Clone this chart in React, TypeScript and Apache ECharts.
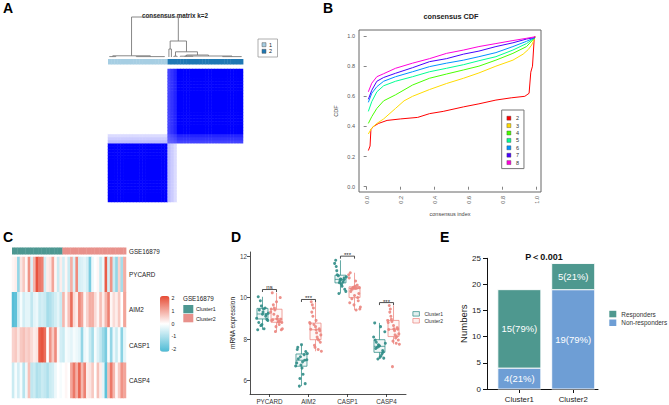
import React, { useEffect, useRef } from "react";
import * as echarts from "echarts";

const FONT = "'Liberation Sans', Arial, Helvetica, sans-serif";

/* ---------------- Panel A : consensus matrix k=2 ---------------- */
const consensusClusters = [
  1, 1, 1, 1, 1, 1, 1, 1, 1, 1, 1, 1, 1, 1, 1, 1, 1, 1, 1,
  2, 2, 2, 2, 2, 2, 2, 2, 2, 2, 2, 2, 2, 2, 2, 2, 2, 2, 2, 2, 2, 2, 2, 2,
];
// estimated share of runs in which each sample falls into cluster 2
const cluster2Affinity = [
  0, 0, 0, 0, 0, 0, 0, 0, 0, 0, 0, 0, 0, 0, 0, 0, 0, 0, 0,
  0.74, 0.8, 0.86, 1, 1, 1, 1, 1, 1, 1, 1, 1, 1, 1, 1, 1, 1, 1, 1, 1, 1, 1, 1, 1,
];
// dendrogram links: [xLeft, xRight, mergeHeight, leftChildHeight, rightChildHeight]
const dendroLinks = [
  [7.5, 22.4, 1.0, 0.03, 0.4],
  [19.8, 25.0, 0.4, 0.2, 0.13],
  [19.4, 20.2, 0.2, 0, 0],
  [21.5, 28.5, 0.13, 0.02, 0.05],
  [21.0, 22.0, 0.02, 0, 0],
  [25.0, 32.0, 0.05, 0.02, 0.025],
  [23.0, 27.0, 0.02, 0.008, 0.008],
  [24.5, 39.5, 0.025, 0.01, 0.01],
  [36.5, 42.5, 0.01, 0, 0],
  [1.5, 13.5, 0.03, 0.01, 0.01],
  [0.5, 2.5, 0.01, 0, 0],
  [9.0, 18.0, 0.01, 0, 0],
];
const clusterColorsA = ["#A6CEE3", "#1F78B4"];

/* ---------------- Panel B : consensus CDF ---------------- */
const cdfNames = ["2", "3", "4", "5", "6", "7", "8"];
const cdfColors = ["#FF0000", "#FFDB00", "#49FF00", "#00FF92", "#0092FF", "#4900FF", "#FF00DB"];
const cdfK2 = [[0.01, 0.24], [0.02, 0.27], [0.025, 0.38], [0.04, 0.4], [0.07, 0.42], [0.12, 0.44], [0.2, 0.45], [0.3, 0.46], [0.37, 0.485], [0.45, 0.5], [0.57, 0.53], [0.66, 0.55], [0.76, 0.575], [0.85, 0.59], [0.93, 0.6], [0.955, 0.62], [0.965, 0.76], [0.975, 0.8], [0.985, 0.98], [0.99, 1.0]];
const cdfK3 = [[0.01, 0.35], [0.03, 0.39], [0.06, 0.42], [0.1, 0.45], [0.17, 0.52], [0.22, 0.57], [0.27, 0.6], [0.37, 0.645], [0.47, 0.685], [0.57, 0.72], [0.66, 0.755], [0.76, 0.8], [0.86, 0.84], [0.92, 0.88], [0.95, 0.91], [0.97, 0.94], [0.99, 0.99]];
const cdfK4 = [[0.01, 0.42], [0.03, 0.465], [0.06, 0.52], [0.1, 0.57], [0.17, 0.61], [0.27, 0.675], [0.37, 0.72], [0.47, 0.748], [0.57, 0.775], [0.66, 0.8], [0.76, 0.84], [0.86, 0.885], [0.94, 0.93], [0.99, 0.99]];
const cdfK5 = [[0.01, 0.5], [0.03, 0.565], [0.06, 0.63], [0.1, 0.67], [0.17, 0.7], [0.27, 0.73], [0.37, 0.763], [0.47, 0.786], [0.57, 0.81], [0.66, 0.836], [0.76, 0.863], [0.86, 0.907], [0.94, 0.95], [0.99, 0.99]];
const cdfK6 = [[0.01, 0.56], [0.03, 0.62], [0.06, 0.664], [0.1, 0.7], [0.17, 0.73], [0.27, 0.763], [0.37, 0.797], [0.47, 0.82], [0.57, 0.84], [0.66, 0.863], [0.76, 0.89], [0.86, 0.93], [0.94, 0.965], [0.99, 0.99]];
const cdfK7 = [[0.01, 0.58], [0.03, 0.64], [0.06, 0.7], [0.1, 0.725], [0.17, 0.753], [0.27, 0.79], [0.37, 0.83], [0.47, 0.85], [0.57, 0.88], [0.66, 0.9], [0.76, 0.93], [0.86, 0.955], [0.94, 0.98], [0.99, 0.99]];
const cdfK8 = [[0.01, 0.63], [0.03, 0.687], [0.06, 0.73], [0.1, 0.75], [0.17, 0.786], [0.27, 0.82], [0.37, 0.85], [0.47, 0.885], [0.57, 0.907], [0.66, 0.93], [0.76, 0.95], [0.86, 0.97], [0.94, 0.985], [0.99, 0.995]];
const cdfCurves = [cdfK2, cdfK3, cdfK4, cdfK5, cdfK6, cdfK7, cdfK8];
const cdfTicks = [0, 0.2, 0.4, 0.6, 0.8, 1.0];

/* ---------------- Panel C : heatmap (z-scores) ---------------- */
const heatGenes = ["PYCARD", "AIM2", "CASP1", "CASP4"];
const zPYCARD = [0.1, 0.2, -1.2, 0.3, 0.6, 0.1, 1.2, -0.4, 0.8, 1.9, 1.5, 1.4, -0.5, 0.2, 0.3, 1.0, 0.1, -0.6, 0.2, -0.5, 0.1, -0.6, 0.9, -0.4, 1.3, -0.5, -0.4, -0.3, -0.5, -1.5, -0.2, 0.0, 0.1, -0.6, -0.2, 1.8, -0.5, 1.2, -0.6, -1.2, 0.5, -1.0, 0.9];
const zAIM2 = [-1.9, -1.8, -0.6, -0.1, -0.5, -0.3, -0.3, -0.7, -0.3, -0.2, -0.6, -0.5, -0.6, -1.0, -0.9, -0.7, -0.5, -0.3, -0.6, 0.8, 0.1, 0.7, 1.6, 0.4, 0.2, 1.3, 1.0, 0.1, 0.5, 0.9, 0.9, 0.4, 0.1, 0.7, 0.2, 0.8, 1.4, 0.1, 0.4, 0.2, 0.6, 0.0, 1.0];
const zCASP1 = [0.5, 0.6, 0.3, 0.6, 0.7, 0.5, 0.6, 0.4, 0.2, 0.3, 1.8, 1.9, 1.6, 0.0, 1.2, 0.6, 1.3, 0.1, -0.5, -0.6, -0.1, -0.2, -0.3, -0.1, -0.2, -0.3, -1.2, -0.2, -0.1, -0.6, -1.0, -0.1, -0.4, -0.7, -1.1, -1.5, -0.1, -1.2, -0.2, -0.6, -0.1, -1.3, -0.3];
const zCASP4 = [-0.6, -0.1, -0.5, -0.1, -0.8, -0.2, 0.7, -0.7, -0.6, -0.9, -0.8, -0.6, -0.7, -0.9, -0.6, -0.5, -0.2, 0.0, -0.1, 0.0, 0.1, 0.0, 1.0, 1.5, 0.9, 1.7, 0.8, 1.4, 0.2, 0.3, 0.6, 0.0, 0.7, 0.2, -0.3, -1.8, 0.7, 1.5, 0.8, 0.1, 0.6, 1.2, 1.0];
const heatSampleCluster = consensusClusters;
const clusterColorsC = ["#4D9791", "#E8918B"];
const heatScaleColors = ["#4DBBD5", "#FFFFFF", "#E64B35"];
const heatScaleTicks = [2, 1, 0, -1, -2];

/* ---------------- Panel D : boxplots ---------------- */
const boxGenes = ["PYCARD", "AIM2", "CASP1", "CASP4"];
const exprCluster1 = [
  [9.2, 8.45, 9.5, 9.85, 8.9, 9.3, 10.04, 9.1, 8.65, 9.25, 9.45, 8.8, 9.18, 9.6, 9.0, 8.5, 9.4, 8.95, 8.7],
  [7.73, 6.85, 7.25, 5.73, 7.0, 6.6, 7.5, 6.98, 6.1, 7.3, 6.9, 7.6, 5.85, 7.15, 6.7, 6.3, 7.05, 7.4, 6.75],
  [10.9, 11.8, 10.75, 11.05, 10.3, 10.88, 11.5, 10.85, 10.2, 11.0, 10.65, 11.3, 10.95, 10.72, 11.65, 10.55, 11.1, 10.4, 10.8],
  [7.68, 8.78, 7.3, 7.6, 8.35, 7.12, 7.95, 7.45, 7.04, 7.8, 8.6, 7.55, 7.38, 7.72, 8.1, 7.2, 7.85, 7.08, 7.65],
];
const exprCluster2 = [
  [8.97, 10.23, 8.85, 9.4, 8.5, 9.1, 8.93, 10.0, 8.36, 9.3, 8.82, 9.65, 8.96, 8.6, 9.45, 8.87, 9.2, 8.45, 9.8, 8.9, 8.7, 9.5, 8.8, 8.98],
  [8.45, 9.8, 7.95, 8.7, 7.41, 8.3, 9.3, 8.5, 7.7, 8.8, 8.1, 9.65, 8.4, 7.6, 8.75, 8.0, 9.1, 7.85, 8.6, 8.47, 7.5, 9.5, 8.2, 8.9],
  [10.44, 11.2, 10.0, 10.46, 9.55, 10.8, 10.3, 9.85, 10.5, 11.1, 9.4, 10.43, 10.2, 9.65, 10.95, 10.45, 9.95, 10.48, 10.1, 9.75, 10.6, 10.4, 9.45, 10.55],
  [8.47, 9.62, 8.12, 8.85, 7.75, 8.4, 9.3, 8.55, 6.67, 8.9, 8.2, 9.45, 8.48, 7.9, 8.8, 8.05, 9.1, 7.95, 8.65, 8.46, 7.8, 8.95, 8.25, 8.5],
];
// [lower whisker, Q1, median, Q3, upper whisker]
const boxStatsCluster1 = [
  [8.45, 8.97, 9.21, 9.48, 10.04],
  [5.73, 6.69, 6.98, 7.28, 7.73],
  [10.2, 10.71, 10.88, 11.08, 11.8],
  [7.04, 7.36, 7.65, 7.97, 8.78],
];
const boxStatsCluster2 = [
  [8.36, 8.81, 8.97, 9.44, 10.23],
  [7.41, 7.97, 8.45, 8.77, 9.8],
  [9.4, 10.0, 10.44, 10.52, 11.2],
  [7.75, 8.12, 8.47, 8.9, 9.62],
];
const sigHeights = [10.39, 9.91, 12.0, 9.76];
const sigLabels = ["ns", "***", "***", "***"];
const dTicks = [6, 8, 10, 12];
const dColors = ["#2F8C86", "#EB857E"];

/* ---------------- Panel E : stacked bars ---------------- */
const eCategories = ["Cluster1", "Cluster2"];
const nonResponders = [4, 19];
const responders = [15, 5];
const nonResponderLabels = ["4(21%)", "19(79%)"];
const responderLabels = ["15(79%)", "5(21%)"];
const eColors = { responders: "#4E988F", nonResponders: "#6E9ED5" };

function txt(text: string, x: number, y: number, size: number, opts: any = {}) {
  return {
    type: "text",
    x,
    y,
    silent: true,
    style: {
      text,
      fontSize: size,
      fontFamily: FONT,
      fontWeight: opts.bold ? "bold" : "normal",
      fill: opts.fill || "#222",
      align: opts.align || "left",
      verticalAlign: opts.v || "middle",
    },
  };
}

function buildOption(): any {
  const N = consensusClusters.length;
  const sampleIdx = consensusClusters.map((_, i) => String(i));

  const matrixData: number[][] = [];
  for (let i = 0; i < N; i++) {
    for (let j = 0; j < N; j++) {
      const a = cluster2Affinity[i];
      const b = cluster2Affinity[j];
      matrixData.push([i, j, +(a * b + (1 - a) * (1 - b)).toFixed(3)]);
    }
  }

  const heatRows = [zPYCARD, zAIM2, zCASP1, zCASP4];
  const heatData: number[][] = [];
  heatRows.forEach((row, r) => row.forEach((v, c) => heatData.push([c, r, v])));

  const jitter = (k: number) => (((k * 37 + 11) % 23) / 22 - 0.5) * 0.3;
  const pts1: number[][] = [];
  const pts2: number[][] = [];
  exprCluster1.forEach((vals, g) => vals.forEach((v, k) => pts1.push([g - 0.18 + jitter(k), v])));
  exprCluster2.forEach((vals, g) => vals.forEach((v, k) => pts2.push([g + 0.18 + jitter(k + 5), v])));

  const boxData: number[][] = [];
  boxGenes.forEach((_, i) => {
    boxData.push([i - 0.18, ...boxStatsCluster1[i], 0]);
    boxData.push([i + 0.18, ...boxStatsCluster2[i], 1]);
  });

  const hiddenVal = (gridIndex: number, min: number, max: number) => ({
    type: "value",
    gridIndex,
    min,
    max,
    show: false,
    splitLine: { show: false },
  });
  const hiddenCat = (gridIndex: number, data: string[], inverse = false) => ({
    type: "category",
    gridIndex,
    data,
    show: false,
    inverse,
  });

  const annotRender = (colors: string[]) => (params: any, api: any) => {
    const i = api.value(0);
    const c = api.value(1);
    const p0 = api.coord([i, 1]);
    const p1 = api.coord([i + 1, 0]);
    return {
      type: "rect",
      shape: { x: p0[0], y: p0[1], width: p1[0] - p0[0] + 0.4, height: p1[1] - p0[1] },
      style: { fill: colors[c - 1] },
    };
  };

  const stackRender = (color: string, labels: string[]) => (params: any, api: any) => {
    const x = api.value(0);
    const pTop = api.coord([x, api.value(2)]);
    const pBase = api.coord([x, api.value(1)]);
    const w = 43;
    return {
      type: "group",
      children: [
        {
          type: "rect",
          shape: { x: pTop[0] - w / 2, y: pTop[1], width: w, height: pBase[1] - pTop[1] },
          style: { fill: color, stroke: "#fff", lineWidth: 0.9 },
        },
        {
          type: "text",
          x: pTop[0],
          y: (pTop[1] + pBase[1]) / 2,
          style: {
            text: labels[params.dataIndex],
            fill: "#fff",
            fontSize: 9.5,
            fontFamily: FONT,
            align: "center",
            verticalAlign: "middle",
          },
        },
      ],
    };
  };

  const axisText = { fontFamily: FONT };

  const grids = [
    { left: 108, top: 17, width: 135, height: 40 }, // 0 A dendrogram
    { left: 108, top: 59, width: 135, height: 5.5 }, // 1 A annotation
    { left: 108, top: 69, width: 135, height: 133 }, // 2 A matrix
    { left: 359, top: 30, width: 182, height: 162, show: true, borderColor: "#666", borderWidth: 1, backgroundColor: "transparent" }, // 3 B
    { left: 12, top: 247.5, width: 114, height: 7 }, // 4 C annotation
    { left: 12, top: 257, width: 114, height: 141 }, // 5 C heatmap
    { left: 250, top: 252, width: 156, height: 142 }, // 6 D
    { left: 487, top: 258.3, width: 111, height: 130.7 }, // 7 E
  ].map((g) => ({ ...g, containLabel: false, outerBoundsMode: "none" }));

  const xAxes = [
    hiddenVal(0, 0, 43),
    hiddenVal(1, 0, 43),
    hiddenCat(2, sampleIdx),
    {
      type: "value",
      gridIndex: 3,
      min: -0.045,
      max: 1.025,
      splitLine: { show: false },
      axisLine: { show: false },
      axisTick: { show: true, length: 3, lineStyle: { color: "#666", width: 0.8 }, customValues: cdfTicks },
      axisLabel: {
        show: true,
        rotate: 90,
        fontSize: 5.5,
        color: "#555",
        margin: 4,
        customValues: cdfTicks,
        formatter: (v: number) => v.toFixed(1),
        ...axisText,
      },
      name: "consensus index",
      nameLocation: "middle",
      nameGap: 19,
      nameTextStyle: { fontSize: 5.5, color: "#444", ...axisText },
    },
    hiddenVal(4, 0, 43),
    hiddenCat(5, sampleIdx),
    {
      type: "category",
      gridIndex: 6,
      data: boxGenes,
      boundaryGap: true,
      axisLine: { show: true, lineStyle: { color: "#222", width: 0.8 } },
      axisTick: { show: true, alignWithLabel: true, length: 3, lineStyle: { color: "#222", width: 0.8 } },
      axisLabel: { show: true, interval: 0, fontSize: 6.3, color: "#333", margin: 4, ...axisText },
      splitLine: { show: false },
    },
    hiddenVal(6, -0.5, 3.5),
    {
      type: "value",
      gridIndex: 7,
      min: -0.6,
      max: 1.46,
      splitLine: { show: false },
      axisLine: { show: true, onZero: false, lineStyle: { color: "#111", width: 1 } },
      axisTick: { show: true, length: 4, lineStyle: { color: "#111" }, customValues: [0, 1] },
      axisLabel: {
        show: true,
        fontSize: 7.8,
        color: "#222",
        margin: 6,
        customValues: [0, 1],
        formatter: (v: number) => eCategories[Math.round(v)] || "",
        ...axisText,
      },
    },
  ];

  const yAxes = [
    hiddenVal(0, 0, 1),
    hiddenVal(1, 0, 1),
    hiddenCat(2, sampleIdx),
    {
      type: "value",
      gridIndex: 3,
      min: -0.035,
      max: 1.04,
      splitLine: { show: false },
      axisLine: { show: false },
      axisTick: { show: true, length: 3, lineStyle: { color: "#666", width: 0.8 }, customValues: cdfTicks },
      axisLabel: {
        show: true,
        fontSize: 5.5,
        color: "#555",
        margin: 4,
        customValues: cdfTicks,
        formatter: (v: number) => v.toFixed(1),
        ...axisText,
      },
      name: "CDF",
      nameLocation: "middle",
      nameGap: 20,
      nameRotate: 90,
      nameTextStyle: { fontSize: 5.5, color: "#444", ...axisText },
    },
    hiddenVal(4, 0, 1),
    {
      type: "category",
      gridIndex: 5,
      data: heatGenes,
      inverse: true,
      position: "right",
      axisLine: { show: false },
      axisTick: { show: false },
      axisLabel: { show: true, fontSize: 6.3, color: "#222", margin: 3, ...axisText },
    },
    {
      type: "value",
      gridIndex: 6,
      min: 5.35,
      max: 12.2,
      splitLine: { show: false },
      axisLine: { show: true, onZero: false, lineStyle: { color: "#222", width: 0.8 } },
      axisTick: { show: true, length: 3, lineStyle: { color: "#222", width: 0.8 }, customValues: dTicks },
      axisLabel: { show: true, fontSize: 6.3, color: "#444", margin: 3, customValues: dTicks, ...axisText },
      name: "mRNA expression",
      nameLocation: "middle",
      nameGap: 14,
      nameRotate: 90,
      nameTextStyle: { fontSize: 6.5, color: "#222", ...axisText },
    },
    {
      type: "value",
      gridIndex: 7,
      min: 0,
      max: 25,
      interval: 5,
      splitLine: { show: false },
      axisLine: { show: true, onZero: false, lineStyle: { color: "#111", width: 1 } },
      axisTick: { show: true, length: 4, lineStyle: { color: "#111" } },
      axisLabel: { show: true, fontSize: 8, color: "#222", margin: 6, ...axisText },
      name: "Numbers",
      nameLocation: "middle",
      nameGap: 19,
      nameRotate: 90,
      nameTextStyle: { fontSize: 9.5, color: "#222", ...axisText },
    },
  ];

  const series: any[] = [];
  // 0 dendrogram
  series.push({
    type: "custom",
    xAxisIndex: 0,
    yAxisIndex: 0,
    silent: true,
    data: dendroLinks,
    renderItem: (params: any, api: any) => {
      const xl = api.value(0), xr = api.value(1), h = api.value(2), hl = api.value(3), hr = api.value(4);
      const pts = [api.coord([xl, hl]), api.coord([xl, h]), api.coord([xr, h]), api.coord([xr, hr])];
      return { type: "polyline", shape: { points: pts }, style: { stroke: "#7A7A7A", lineWidth: 0.9, fill: "none" } };
    },
  });
  // 1 A annotation
  series.push({
    type: "custom",
    xAxisIndex: 1,
    yAxisIndex: 1,
    silent: true,
    data: consensusClusters.map((c, i) => [i, c]),
    renderItem: annotRender(clusterColorsA),
  });
  // 2 A matrix
  series.push({
    type: "heatmap",
    xAxisIndex: 2,
    yAxisIndex: 2,
    silent: true,
    progressive: 0,
    data: matrixData,
  });
  // 3..9 B lines
  cdfCurves.forEach((curve, k) => {
    series.push({
      type: "line",
      name: cdfNames[k],
      xAxisIndex: 3,
      yAxisIndex: 3,
      silent: true,
      showSymbol: false,
      color: cdfColors[k],
      lineStyle: { width: 1, color: cdfColors[k] },
      itemStyle: { color: cdfColors[k] },
      data: curve,
    });
  });
  // 10 C annotation
  series.push({
    type: "custom",
    xAxisIndex: 4,
    yAxisIndex: 4,
    silent: true,
    data: heatSampleCluster.map((c, i) => [i, c]),
    renderItem: annotRender(clusterColorsC),
  });
  // 11 C heatmap
  series.push({
    type: "heatmap",
    xAxisIndex: 5,
    yAxisIndex: 5,
    silent: true,
    progressive: 0,
    data: heatData,
  });
  // 12 D boxes
  series.push({
    type: "custom",
    xAxisIndex: 7,
    yAxisIndex: 6,
    silent: true,
    data: boxData,
    z: 2,
    renderItem: (params: any, api: any) => {
      const x = api.value(0);
      const g = api.value(6);
      const color = dColors[g];
      const pMin = api.coord([x, api.value(1)]);
      const pQ1 = api.coord([x, api.value(2)]);
      const pMed = api.coord([x, api.value(3)]);
      const pQ3 = api.coord([x, api.value(4)]);
      const pMax = api.coord([x, api.value(5)]);
      const hw = 5.5;
      const ls = { stroke: color, lineWidth: 0.9, opacity: 0.85 };
      return {
        type: "group",
        children: [
          { type: "line", shape: { x1: pMax[0], y1: pMax[1], x2: pQ3[0], y2: pQ3[1] }, style: ls },
          { type: "line", shape: { x1: pQ1[0], y1: pQ1[1], x2: pMin[0], y2: pMin[1] }, style: ls },
          {
            type: "rect",
            shape: { x: pQ3[0] - hw, y: pQ3[1], width: hw * 2, height: pQ1[1] - pQ3[1] },
            style: { fill: g === 0 ? "rgba(47,140,134,0.08)" : "rgba(235,133,126,0.08)", stroke: color, lineWidth: 0.9, opacity: 0.85 },
          },
          { type: "line", shape: { x1: pMed[0] - hw, y1: pMed[1], x2: pMed[0] + hw, y2: pMed[1] }, style: ls },
        ],
      };
    },
  });
  // 13, 14 D points
  series.push({
    type: "scatter",
    name: "Cluster1",
    xAxisIndex: 7,
    yAxisIndex: 6,
    silent: true,
    symbolSize: 3,
    z: 3,
    itemStyle: { color: dColors[0], opacity: 0.9 },
    data: pts1,
  });
  series.push({
    type: "scatter",
    name: "Cluster2",
    xAxisIndex: 7,
    yAxisIndex: 6,
    silent: true,
    symbolSize: 3,
    z: 3,
    itemStyle: { color: dColors[1], opacity: 0.9 },
    data: pts2,
  });
  // 15 D significance brackets
  series.push({
    type: "custom",
    xAxisIndex: 7,
    yAxisIndex: 6,
    silent: true,
    z: 4,
    data: sigHeights.map((h, i) => [i, h]),
    renderItem: (params: any, api: any) => {
      const i = api.value(0);
      const h = api.value(1);
      const p0 = api.coord([i - 0.18, h]);
      const p1 = api.coord([i + 0.18, h]);
      const lab = sigLabels[params.dataIndex];
      const isStar = lab.indexOf("*") >= 0;
      return {
        type: "group",
        children: [
          {
            type: "polyline",
            shape: { points: [[p0[0], p0[1] + 2.5], [p0[0], p0[1]], [p1[0], p1[1]], [p1[0], p1[1] + 2.5]] },
            style: { stroke: "#222", lineWidth: 0.8, fill: "none" },
          },
          {
            type: "text",
            x: (p0[0] + p1[0]) / 2,
            y: isStar ? p0[1] - 1 : p0[1],
            style: {
              text: lab,
              fontSize: 6,
              fontFamily: FONT,
              fill: "#222",
              align: "center",
              verticalAlign: isStar ? "middle" : "bottom",
            },
          },
        ],
      };
    },
  });
  // 16, 17 E stacked bars (base / top computed from the two count arrays)
  series.push({
    type: "custom",
    name: "Non-responders",
    xAxisIndex: 8,
    yAxisIndex: 7,
    silent: true,
    itemStyle: { color: eColors.nonResponders },
    data: nonResponders.map((v, i) => [i, 0, v]),
    renderItem: stackRender(eColors.nonResponders, nonResponderLabels),
  });
  series.push({
    type: "custom",
    name: "Responders",
    xAxisIndex: 8,
    yAxisIndex: 7,
    silent: true,
    itemStyle: { color: eColors.responders },
    data: responders.map((v, i) => [i, nonResponders[i], nonResponders[i] + v]),
    renderItem: stackRender(eColors.responders, responderLabels),
  });

  const graphic: any[] = [
    txt("A", 3, 8.4, 14, { bold: true, fill: "#000" }),
    txt("B", 323, 8.4, 14, { bold: true, fill: "#000" }),
    txt("C", 3, 237.2, 14, { bold: true, fill: "#000" }),
    txt("D", 231, 236.5, 14, { bold: true, fill: "#000" }),
    txt("E", 440, 236.5, 14, { bold: true, fill: "#000" }),
    txt("consensus matrix k=2", 175, 15.3, 6.3, { bold: true, align: "center" }),
    txt("consensus CDF", 451, 16, 7.3, { bold: true, align: "center" }),
    txt("P\uFF1C0.001", 544, 257, 9, { bold: true, align: "center", fill: "#111" }),
    // A legend
    { type: "rect", silent: true, shape: { x: 258, y: 39, width: 19.5, height: 18 }, style: { fill: "none", stroke: "#999", lineWidth: 0.8 } },
    { type: "rect", silent: true, shape: { x: 262, y: 42.7, width: 4, height: 4 }, style: { fill: clusterColorsA[0], stroke: "#555", lineWidth: 0.5 } },
    { type: "rect", silent: true, shape: { x: 262, y: 49.3, width: 4, height: 4 }, style: { fill: clusterColorsA[1], stroke: "#555", lineWidth: 0.5 } },
    txt("1", 269, 44.8, 5.5),
    txt("2", 269, 51.4, 5.5),
    // C annotation label & legend
    txt("GSE16879", 129, 251, 6.3),
    txt("GSE16879", 183, 298.5, 6.3),
    { type: "rect", silent: true, shape: { x: 183.3, y: 305, width: 10, height: 8.3 }, style: { fill: clusterColorsC[0] } },
    { type: "rect", silent: true, shape: { x: 183.3, y: 314, width: 10, height: 8.3 }, style: { fill: clusterColorsC[1] } },
    txt("Cluster1", 196, 309.2, 5.3),
    txt("Cluster2", 196, 318.6, 5.3),
  ];
  heatScaleTicks.forEach((t) => {
    graphic.push(txt(String(t), 171.5, 297.7 + ((2 - t) / 4) * 51.6, 5.3));
  });

  return {
    animation: false,
    backgroundColor: "#fff",
    textStyle: { fontFamily: FONT },
    grid: grids,
    xAxis: xAxes,
    yAxis: yAxes,
    visualMap: [
      {
        type: "continuous",
        seriesIndex: 2,
        min: 0,
        max: 1,
        show: false,
        inRange: { color: ["#FFFFFF", "#0000FF"] },
      },
      {
        type: "continuous",
        seriesIndex: 11,
        min: -2,
        max: 2,
        show: true,
        calculable: false,
        hoverLink: false,
        left: 160,
        top: 296,
        padding: 0,
        itemWidth: 9.5,
        itemHeight: 55.7,
        text: null,
        inRange: { color: heatScaleColors },
      },
    ],
    legend: [
      {
        orient: "vertical",
        left: 501.7,
        top: 110,
        padding: [5.2, 5, 3, 5],
        borderColor: "#777",
        borderWidth: 1,
        itemWidth: 4,
        itemHeight: 4,
        itemGap: 1.4,
        selectedMode: false,
        textStyle: { fontSize: 5.5, color: "#333", fontFamily: FONT },
        data: cdfNames.map((n) => ({ name: n, icon: "rect", itemStyle: { borderColor: "#444", borderWidth: 0.4 } })),
      },
      {
        orient: "vertical",
        left: 412.5,
        top: 311.2,
        padding: 0,
        itemWidth: 6.5,
        itemHeight: 4.5,
        itemGap: 1.6,
        selectedMode: false,
        textStyle: { fontSize: 5, color: "#333", fontFamily: FONT },
        data: [
          { name: "Cluster1", icon: "rect", itemStyle: { color: "rgba(47,140,134,0.15)", borderColor: dColors[0], borderWidth: 0.8 } },
          { name: "Cluster2", icon: "rect", itemStyle: { color: "rgba(235,133,126,0.15)", borderColor: dColors[1], borderWidth: 0.8 } },
        ],
      },
      {
        orient: "vertical",
        left: 609.3,
        top: 310.8,
        padding: 0,
        itemWidth: 7,
        itemHeight: 6.5,
        itemGap: 2.2,
        selectedMode: false,
        textStyle: { fontSize: 6.4, color: "#333", fontFamily: FONT },
        data: [
          { name: "Responders", icon: "rect", itemStyle: { color: eColors.responders } },
          { name: "Non-responders", icon: "rect", itemStyle: { color: eColors.nonResponders } },
        ],
      },
    ],
    graphic,
    series,
  };
}

export default function App() {
  const ref = useRef<HTMLDivElement>(null);
  useEffect(() => {
    if (!ref.current) return;
    const chart = echarts.init(ref.current, undefined, { renderer: "svg" });
    chart.setOption(buildOption());
    return () => {
      chart.dispose();
    };
  }, []);
  return (
    <div
      ref={ref}
      style={{ position: "fixed", left: 0, top: 0, width: 669, height: 405, background: "#fff" }}
    />
  );
}
